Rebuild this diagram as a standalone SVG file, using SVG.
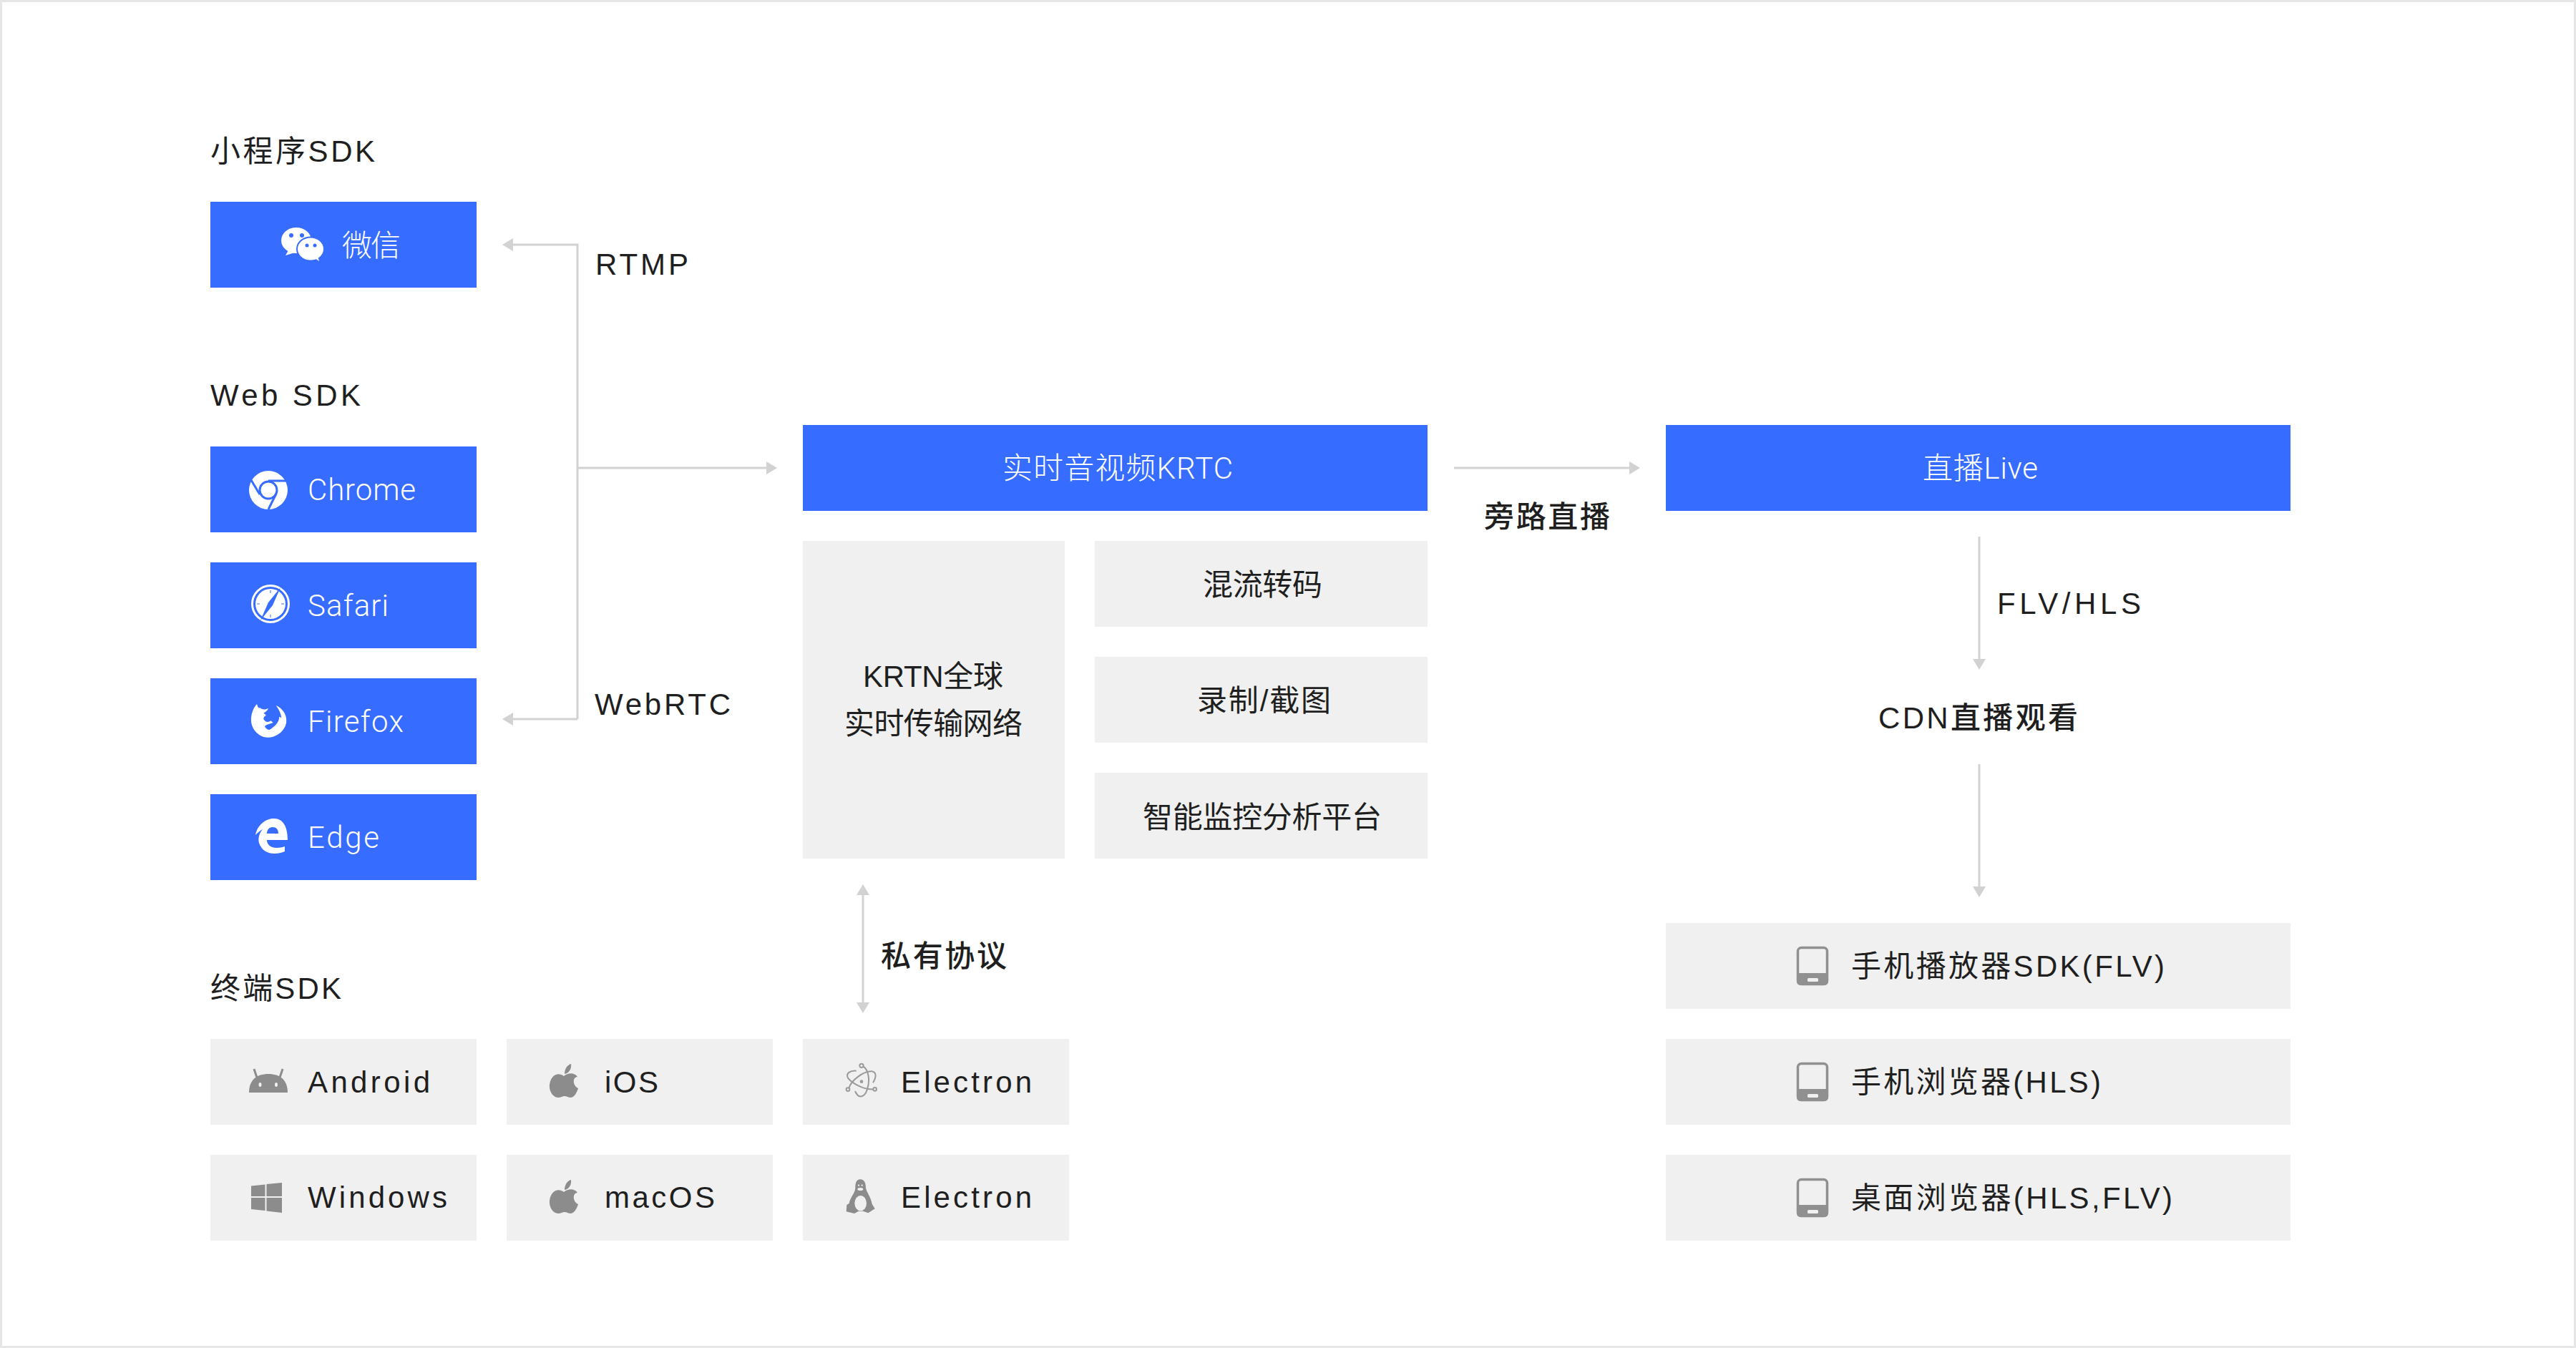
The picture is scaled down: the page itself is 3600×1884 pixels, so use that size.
<svg xmlns="http://www.w3.org/2000/svg" width="3600" height="1884" viewBox="0 0 3600 1884">
<style>
text{font-family:"Liberation Sans","Noto Sans CJK SC",sans-serif;font-size:42px;fill:#1f1f1f}
.w{fill:#fff;font-family:Roboto,"Noto Sans CJK SC",sans-serif;font-weight:300}
.m{font-weight:500}
.blue{fill:#366cff}
.gray{fill:#f0f0f0}
.ico{fill:#8c8c8c}
.wi{fill:#fff}
.line{fill:none;stroke:#d2d2d2;stroke-width:3}
.orb{fill:none;stroke:#9a9a9a;stroke-width:6}
</style>
<defs>
<marker id="arrow" markerUnits="userSpaceOnUse" markerWidth="15" markerHeight="18" viewBox="0 0 15 18" refX="0" refY="9" orient="auto-start-reverse"><path d="M0 0L15 9L0 18Z" fill="#d2d2d2"/></marker>
<g id="phone"><rect x="2512.500" y="1324.500" width="41" height="51" rx="5" fill="none" stroke="#909090" stroke-width="3.500"/><path d="M2511 1360H2555V1372a5 5 0 0 1-5 5H2516a5 5 0 0 1-5-5Z" fill="#909090"/><rect x="2526" y="1367" width="15" height="5" rx="1.500" fill="#f0f0f0"/></g>
<path id="apple" class="ico" d="M788 1504C780 1498 770 1502 768 1516C767 1525 773 1534 780 1534C784 1534 786 1532 789 1532C792 1532 794 1534 798 1534C804 1533 807 1524 808 1521C801 1518 799 1506 807 1505C803 1499 794 1499 788 1504ZM789 1501C789 1494 793 1488 798 1487C799 1494 795 1500 789 1501Z"/>
</defs>
<rect x="1.500" y="1.500" width="3597" height="1881" fill="#fff" stroke="#e6e6e6" stroke-width="3"/>

<g id="connectors">
<path class="line" d="M807 1005V342H717" marker-end="url(#arrow)"/>
<path class="line" d="M807 1005H717" marker-end="url(#arrow)"/>
<path class="line" d="M807 654H1071" marker-end="url(#arrow)"/>
<path class="line" d="M2032 654H2277" marker-end="url(#arrow)"/>
<path class="line" d="M1206 1251V1401" marker-start="url(#arrow)" marker-end="url(#arrow)"/>
<path class="line" d="M2766 750V921" marker-end="url(#arrow)"/>
<path class="line" d="M2766 1068V1239" marker-end="url(#arrow)"/>
</g>

<g id="labels">
<text x="294" y="226" textLength="230">小程序SDK</text>
<text x="294" y="567" textLength="210">Web SDK</text>
<text x="294" y="1396" textLength="183">终端SDK</text>
<text x="832" y="384" textLength="130">RTMP</text>
<text x="831" y="999" textLength="190">WebRTC</text>
<text class="m" x="1231" y="1351" textLength="176">私有协议</text>
<text class="m" x="2074" y="737" textLength="176">旁路直播</text>
<text x="2791" y="858" textLength="201">FLV/HLS</text>
<text class="m" x="2625" y="1018" textLength="279">CDN直播观看</text>
</g>

<g id="node-wechat"><rect class="blue" x="294" y="282" width="372" height="120"/>
<ellipse class="wi" cx="414" cy="336" rx="21" ry="18"/><path class="wi" d="M403 350L399 357L412 353Z"/>
<circle class="blue" cx="407" cy="329" r="3"/><circle class="blue" cx="422" cy="329" r="3"/>
<ellipse class="wi" cx="434" cy="348" rx="19" ry="16.500" stroke="#366cff" stroke-width="2"/><path class="wi" d="M440 361L446 365L444 358Z"/>
<circle class="blue" cx="429" cy="343" r="2.500"/><circle class="blue" cx="440" cy="343" r="2.500"/>
<text class="w" x="478" y="358" textLength="82">微信</text></g>

<g id="node-chrome"><rect class="blue" x="294" y="624" width="372" height="120"/>
<circle class="wi" cx="375" cy="685" r="27"/>
<circle cx="375" cy="685" r="12" fill="#fff" stroke="#366cff" stroke-width="3"/>
<path d="M375 672H402M363 691L351 671M386 690L375 712" fill="none" stroke="#366cff" stroke-width="3"/>
<text class="w" x="430" y="699" textLength="151">Chrome</text></g>

<g id="node-safari"><rect class="blue" x="294" y="786" width="372" height="120"/>
<circle cx="378" cy="844" r="25.500" fill="none" stroke="#fff" stroke-width="3"/>
<circle class="wi" cx="378" cy="844" r="21"/>
<path class="blue" d="M392 821L381 846L375 842ZM364 867L375 842L381 846Z"/>
<path d="M378 825V829M378 859V863M359 844H363M393 844H397" stroke="#366cff" stroke-width="1"/>
<text class="w" x="430" y="861" textLength="113">Safari</text></g>

<g id="node-firefox"><rect class="blue" x="294" y="948" width="372" height="120"/>
<path class="wi" transform="translate(340 970) scale(.3333)" d="M57 42C45 55 35 75 33 100C30 130 45 165 85 180C125 190 165 165 178 130C188 95 170 62 137 48C150 65 158 82 160 100L150 95C152 115 135 135 110 150C100 150 92 142 90 135C100 125 115 125 125 120L115 112C105 120 92 118 85 105C85 95 95 92 95 88L85 80C95 75 102 68 105 60C95 65 82 68 70 58C62 60 60 52 57 42Z"/>
<text class="w" x="430" y="1023" textLength="134">Firefox</text></g>

<g id="node-edge"><rect class="blue" x="294" y="1110" width="372" height="120"/>
<path class="wi" fill-rule="evenodd" d="M357 1167C360 1152 372 1144 383 1144C396 1144 402 1156 402 1174H373C373 1183 383 1188 398 1183V1190C386 1195 371 1194 365 1184C359 1176 361 1166 367 1159C363 1161 360 1164 357 1167ZM373 1165H389C389 1159 386 1156 381 1156C376 1156 373 1160 373 1165Z"/>
<text class="w" x="430" y="1185" textLength="100">Edge</text></g>

<g id="node-android"><rect class="gray" x="294" y="1452" width="372" height="120"/>
<path class="ico" d="M348 1527C348 1510 358 1501 375 1501C392 1501 402 1510 402 1527Z"/>
<path d="M359 1506L355 1494M391 1506L395 1494" stroke="#8c8c8c" stroke-width="3" fill="none"/>
<ellipse cx="363.500" cy="1516" rx="2" ry="3" fill="#f0f0f0"/><ellipse cx="386" cy="1516" rx="2" ry="3" fill="#f0f0f0"/>
<text x="430" y="1527" textLength="171">Android</text></g>

<g id="node-ios"><rect class="gray" x="708" y="1452" width="372" height="120"/>
<use href="#apple"/>
<text x="845" y="1527" textLength="75">iOS</text></g>

<g id="node-electron-1"><rect class="gray" x="1122" y="1452" width="372" height="120"/>
<g transform="translate(1170 1480) scale(.3333)">
<circle cx="102" cy="28" r="8" class="orb"/><circle cx="45" cy="128" r="7" class="orb"/><circle cx="158" cy="127" r="7" class="orb"/>
<circle cx="102" cy="95" r="7" fill="#9a9a9a"/>
<path class="orb" d="M110 32C130 45 140 90 125 130C115 160 90 170 75 135"/>
<path class="orb" d="M150 127C110 130 60 100 45 80C35 60 55 48 80 50"/>
<path class="orb" d="M50 120C60 90 110 50 145 52C165 55 165 75 150 100"/>
</g>
<text x="1259" y="1527" textLength="183">Electron</text></g>

<g id="node-windows"><rect class="gray" x="294" y="1614" width="372" height="120"/>
<path class="ico" d="M351 1657.500L370.500 1655.500V1672H351ZM372.500 1655L394 1653V1672H372.500ZM351 1674H370.500V1692L351 1690ZM372.500 1674H394V1695L372.500 1692.500Z"/>
<text x="430" y="1688" textLength="195">Windows</text></g>

<g id="node-macos"><rect class="gray" x="708" y="1614" width="372" height="120"/>
<use href="#apple" y="162"/>
<text x="845" y="1688" textLength="154">macOS</text></g>

<g id="node-linux"><rect class="gray" x="1122" y="1614" width="372" height="120"/>
<g transform="translate(1170 1640) scale(.3333)">
<path class="ico" d="M97 25C114 25 120 42 120 60C122 78 142 100 146 128L158 148L130 166L108 158H90L72 168L38 160L40 132L50 126C54 100 76 82 76 60C76 40 80 25 97 25Z"/>
<ellipse cx="98" cy="125" rx="25" ry="32" fill="#f0f0f0"/>
<ellipse cx="97" cy="66" rx="12" ry="6" fill="#f0f0f0"/>
<circle cx="90" cy="50" r="3.500" fill="#f0f0f0"/><circle cx="104" cy="50" r="3.500" fill="#f0f0f0"/>
</g>
<text x="1259" y="1688" textLength="183">Electron</text></g>

<g id="node-krtc"><rect class="blue" x="1122" y="594" width="873" height="120"/>
<text class="w" x="1401" y="669" textLength="322">实时音视频KRTC</text></g>

<g id="node-krtn"><rect class="gray" x="1122" y="756" width="366" height="444"/>
<text x="1206" y="960" textLength="196">KRTN全球</text>
<text x="1180" y="1026" textLength="249">实时传输网络</text></g>

<g id="node-mix"><rect class="gray" x="1530" y="756" width="465" height="120"/>
<text x="1681" y="832" textLength="167">混流转码</text></g>
<g id="node-record"><rect class="gray" x="1530" y="918" width="465" height="120"/>
<text x="1673" y="994" textLength="187">录制/截图</text></g>
<g id="node-monitor"><rect class="gray" x="1530" y="1080" width="465" height="120"/>
<text x="1597" y="1157" textLength="334">智能监控分析平台</text></g>

<g id="node-live"><rect class="blue" x="2328" y="594" width="873" height="120"/>
<text class="w" x="2687" y="669" textLength="161">直播Live</text></g>

<g id="node-player-flv"><rect class="gray" x="2328" y="1290" width="873" height="120"/>
<use href="#phone"/>
<text x="2587" y="1365" textLength="438">手机播放器SDK(FLV)</text></g>
<g id="node-mobile-hls"><rect class="gray" x="2328" y="1452" width="873" height="120"/>
<use href="#phone" y="162"/>
<text x="2587" y="1527" textLength="349">手机浏览器(HLS)</text></g>
<g id="node-desktop"><rect class="gray" x="2328" y="1614" width="873" height="120"/>
<use href="#phone" y="324"/>
<text x="2587" y="1689" textLength="449">桌面浏览器(HLS,FLV)</text></g>
</svg>
